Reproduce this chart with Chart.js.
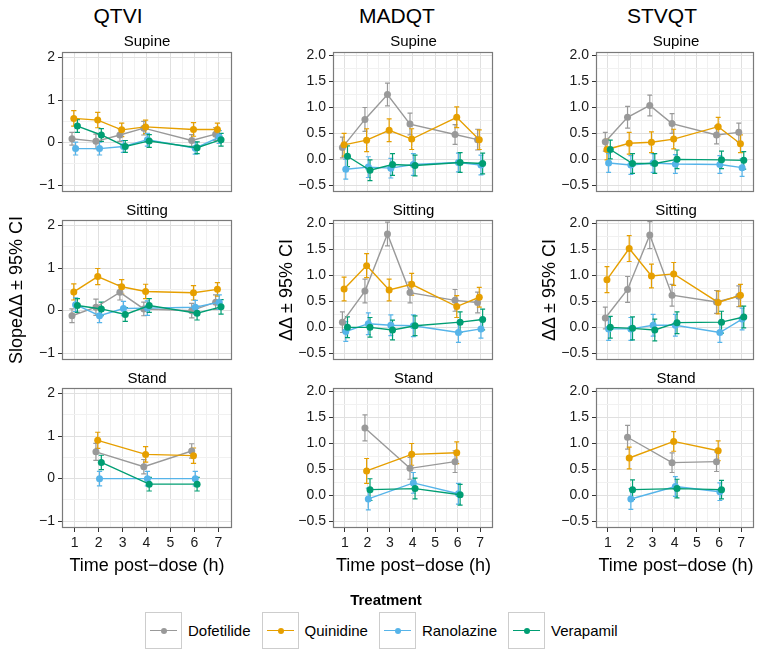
<!DOCTYPE html>
<html>
<head>
<meta charset="utf-8">
<script src="https://cdn.jsdelivr.net/npm/chart.js@4.4.1/dist/chart.umd.min.js"></script>
<style>
  body { margin: 0; width: 757px; height: 650px; position: relative; overflow: hidden; background: #fff;
         font-family: "Liberation Sans", Arial, Helvetica, sans-serif; color: #000; }
  canvas { position: absolute; }
  .txt { position: absolute; white-space: nowrap; transform: translate(-50%, -50%); line-height: 1; }
  .legend { position: absolute; left: 145px; top: 612px; display: flex; align-items: center; font-size: 15px; }
  .key { width: 35px; height: 35px; border: 1px solid #cdcdcd; position: relative; margin-right: 6px; }
  .key .ln { position: absolute; left: 4px; right: 4px; top: 17px; height: 1.4px; }
  .key .dot { position: absolute; left: 15px; top: 15px; width: 6px; height: 6px; border-radius: 50%; }
  .item { display: flex; align-items: center; margin-right: 11px; }
</style>
</head>
<body>
<script>
const treatments = ['Dofetilide', 'Quinidine', 'Ranolazine', 'Verapamil'];
const colors = ['#999999', '#E69F00', '#56B4E9', '#009E73'];
const hours = [1, 2, 3, 4, 6, 7];
const standHours = [2, 4, 6];
const xTicks = [1, 2, 3, 4, 5, 6, 7];
const qtviTicks = [-1, 0, 1, 2];
const dqtTicks = [-0.5, 0, 0.5, 1, 1.5, 2];

// QTVI (rows: Dofetilide, Quinidine, Ranolazine, Verapamil)
const qtviSupine = [
  [0.09, 0.03, 0.18, 0.34, 0.05, 0.20],
  [0.57, 0.53, 0.30, 0.37, 0.31, 0.31],
  [-0.14, -0.14, -0.09, 0.07, -0.13, 0.13],
  [0.39, 0.18, -0.09, 0.04, -0.12, 0.07]
];
const qtviSupineCI = [
  [0.15, 0.17, 0.15, 0.16, 0.14, 0.15],
  [0.18, 0.18, 0.16, 0.16, 0.16, 0.15],
  [0.15, 0.15, 0.14, 0.15, 0.14, 0.15],
  [0.15, 0.15, 0.14, 0.15, 0.14, 0.15]
];
const qtviSitting = [
  [-0.12, 0.08, 0.43, 0.04, 0.00, 0.20],
  [0.44, 0.80, 0.56, 0.45, 0.42, 0.50],
  [0.14, -0.12, 0.05, 0.06, 0.08, 0.20],
  [0.12, 0.04, -0.09, 0.12, -0.06, 0.09]
];
const qtviSittingCI = [
  [0.16, 0.19, 0.18, 0.16, 0.17, 0.17],
  [0.19, 0.19, 0.17, 0.17, 0.17, 0.16],
  [0.16, 0.16, 0.17, 0.17, 0.16, 0.17],
  [0.16, 0.16, 0.16, 0.16, 0.16, 0.17]
];
const qtviStand = [
  [0.63, 0.28, 0.65],
  [0.90, 0.57, 0.54],
  [0.00, 0.00, 0.00],
  [0.38, -0.13, -0.13]
];
const qtviStandCI = [
  [0.20, 0.17, 0.17],
  [0.19, 0.18, 0.18],
  [0.17, 0.17, 0.17],
  [0.17, 0.16, 0.16]
];

// MADQT
const madqtSupine = [
  [0.23, 0.77, 1.25, 0.68, 0.48, 0.38],
  [0.28, 0.37, 0.56, 0.39, 0.81, 0.38],
  [-0.19, -0.15, -0.17, -0.10, -0.06, -0.11],
  [0.06, -0.21, -0.10, -0.12, -0.06, -0.08]
];
const madqtSupineCI = [
  [0.20, 0.23, 0.22, 0.21, 0.19, 0.20],
  [0.22, 0.22, 0.22, 0.20, 0.20, 0.19],
  [0.19, 0.20, 0.19, 0.21, 0.18, 0.19],
  [0.20, 0.20, 0.21, 0.20, 0.19, 0.20]
];
const madqtSitting = [
  [0.10, 0.70, 1.80, 0.67, 0.52, 0.48],
  [0.74, 1.19, 0.72, 0.83, 0.40, 0.58],
  [-0.08, 0.07, 0.04, 0.03, -0.10, -0.03],
  [0.00, 0.00, -0.05, 0.03, 0.10, 0.15]
];
const madqtSittingCI = [
  [0.20, 0.23, 0.23, 0.20, 0.21, 0.20],
  [0.23, 0.23, 0.21, 0.21, 0.21, 0.19],
  [0.19, 0.21, 0.20, 0.21, 0.19, 0.18],
  [0.20, 0.19, 0.19, 0.19, 0.20, 0.20]
];
const madqtStand = [
  [1.30, 0.52, 0.65],
  [0.47, 0.79, 0.82],
  [-0.07, 0.24, 0.03],
  [0.11, 0.13, 0.01]
];
const madqtStandCI = [
  [0.25, 0.21, 0.21],
  [0.24, 0.21, 0.21],
  [0.21, 0.20, 0.20],
  [0.21, 0.20, 0.20]
];

// STVQT
const stvqtSupine = [
  [0.34, 0.81, 1.04, 0.69, 0.47, 0.52],
  [0.19, 0.31, 0.33, 0.39, 0.63, 0.30],
  [-0.07, -0.11, -0.07, -0.09, -0.10, -0.16],
  [0.19, -0.08, -0.08, 0.00, -0.01, -0.02]
];
const stvqtSupineCI = [
  [0.18, 0.21, 0.20, 0.19, 0.17, 0.18],
  [0.20, 0.21, 0.20, 0.19, 0.18, 0.17],
  [0.18, 0.18, 0.18, 0.18, 0.17, 0.17],
  [0.18, 0.19, 0.19, 0.18, 0.17, 0.17]
];
const stvqtSitting = [
  [0.18, 0.73, 1.78, 0.62, 0.49, 0.60],
  [0.92, 1.52, 0.99, 1.03, 0.48, 0.62],
  [-0.03, -0.03, 0.04, 0.04, -0.10, 0.16],
  [0.00, -0.02, -0.05, 0.09, 0.10, 0.20]
];
const stvqtSittingCI = [
  [0.21, 0.25, 0.26, 0.21, 0.22, 0.20],
  [0.25, 0.25, 0.23, 0.22, 0.22, 0.21],
  [0.22, 0.22, 0.21, 0.21, 0.19, 0.21],
  [0.21, 0.22, 0.21, 0.21, 0.21, 0.21]
];
const stvqtStand = [
  [1.12, 0.63, 0.65],
  [0.72, 1.04, 0.86],
  [-0.07, 0.17, 0.07],
  [0.11, 0.13, 0.11]
];
const stvqtStandCI = [
  [0.23, 0.19, 0.19],
  [0.21, 0.19, 0.19],
  [0.20, 0.19, 0.17],
  [0.19, 0.18, 0.18]
];

const FONT = '"Liberation Sans", Arial, Helvetica, sans-serif';
const dodge = [-0.1125, -0.0375, 0.0375, 0.1125];
const capHalf = 0.11;

// column / row geometry of the panel areas
const cols = [
  { left: 0, width: 235, axisW: 62, padR: 3, yTicks: qtviTicks, yMin: -1.16, yMax: 2.13, dec: 0 },
  { left: 270, width: 226, axisW: 63, padR: 2, yTicks: dqtTicks, yMin: -0.63, yMax: 2.07, dec: 1 },
  { left: 533, width: 224, axisW: 63, padR: 1, yTicks: dqtTicks, yMin: -0.63, yMax: 2.07, dec: 1 }
];
const rowTops = [52, 220, 388];
const PANEL_H = 140, PAD = 16;

const midpoints = arr => arr.slice(1).map((v, i) => (v + arr[i]) / 2);
const withMinor = arr => arr.concat(midpoints(arr)).sort((a, b) => a - b);
const fmt = (v, dec) => v.toFixed(dec).replace('-', '\u2212');

const errorBars = {
  id: 'errorBars',
  beforeDatasetsDraw(chart) {
    const { ctx, scales: { x, y } } = chart;
    ctx.save();
    ctx.lineWidth = 1.2;
    chart.data.datasets.forEach(ds => {
      ctx.strokeStyle = ds.borderColor;
      ds.data.forEach((p, j) => {
        const px = x.getPixelForValue(p.x);
        const hi = y.getPixelForValue(p.y + ds.ci[j]);
        const lo = y.getPixelForValue(p.y - ds.ci[j]);
        const l = x.getPixelForValue(p.x - capHalf);
        const r = x.getPixelForValue(p.x + capHalf);
        ctx.beginPath();
        ctx.moveTo(px, hi); ctx.lineTo(px, lo);
        ctx.moveTo(l, hi); ctx.lineTo(r, hi);
        ctx.moveTo(l, lo); ctx.lineTo(r, lo);
        ctx.stroke();
      });
    });
    ctx.restore();
  }
};

const panelBox = {
  id: 'panelBox',
  afterDraw(chart) {
    const { ctx, chartArea: a } = chart;
    ctx.save();
    ctx.strokeStyle = '#7a7a7a';
    ctx.lineWidth = 1.2;
    ctx.strokeRect(Math.round(a.left) + 0.5, Math.round(a.top) + 0.5,
      Math.round(a.right - a.left) - 1, Math.round(a.bottom - a.top) - 1);
    ctx.restore();
  }
};

function panel(col, row, series, ci, xs) {
  const c = cols[col];
  const bottom = row === 2;
  const canvas = document.createElement('canvas');
  canvas.width = c.width;
  canvas.height = PAD + PANEL_H + (bottom ? 30 : PAD);
  canvas.style.left = c.left + 'px';
  canvas.style.top = (rowTops[row] - PAD) + 'px';
  document.body.appendChild(canvas);

  const datasets = treatments.map((name, i) => ({
    label: name,
    data: xs.map((h, j) => ({ x: h + dodge[i], y: series[i][j] })),
    ci: ci[i],
    borderColor: colors[i],
    backgroundColor: colors[i],
    pointBackgroundColor: colors[i],
    borderWidth: 1.4,
    pointRadius: 3.5,
    pointHoverRadius: 3.5,
    pointBorderWidth: 0,
    tension: 0,
    order: 3 - i
  }));

  const xVals = withMinor(xTicks);
  const yVals = withMinor(c.yTicks);
  const isMajorX = v => xTicks.includes(v);
  const isMajorY = v => c.yTicks.includes(v);

  new Chart(canvas, {
    type: 'line',
    data: { datasets },
    plugins: [errorBars, panelBox],
    options: {
      responsive: false,
      animation: false,
      devicePixelRatio: 1,
      layout: { padding: { top: PAD, bottom: bottom ? 0 : PAD, left: 0, right: c.padR } },
      plugins: { legend: { display: false }, tooltip: { enabled: false } },
      scales: {
        x: {
          type: 'linear', min: 0.47, max: 7.55,
          afterBuildTicks: s => { s.ticks = xVals.map(v => ({ value: v })); },
          afterFit: s => { s.height = bottom ? 30 : 0; },
          border: { display: false },
          grid: {
            color: ctx => isMajorX(ctx.tick.value) ? '#e0e0e0' : '#f1f1f1',
            lineWidth: 1,
            drawTicks: bottom,
            tickLength: 4,
            tickWidth: 1,
            tickColor: ctx => isMajorX(ctx.tick.value) ? '#333333' : 'rgba(0,0,0,0)'
          },
          ticks: {
            display: bottom, autoSkip: false, maxRotation: 0, padding: 3,
            color: '#1a1a1a', font: { family: FONT, size: 14 },
            callback: v => isMajorX(v) ? String(v) : ''
          }
        },
        y: {
          type: 'linear', min: c.yMin, max: c.yMax,
          afterBuildTicks: s => { s.ticks = yVals.map(v => ({ value: v })); },
          afterFit: s => { s.width = c.axisW; },
          border: { display: false },
          grid: {
            color: ctx => isMajorY(ctx.tick.value) ? '#e0e0e0' : '#f1f1f1',
            lineWidth: 1,
            drawTicks: true,
            tickLength: 4,
            tickWidth: 1,
            tickColor: ctx => isMajorY(ctx.tick.value) ? '#333333' : 'rgba(0,0,0,0)'
          },
          ticks: {
            autoSkip: false, padding: 3,
            color: '#1a1a1a', font: { family: FONT, size: 14 },
            callback: v => isMajorY(v) ? fmt(v, c.dec) : ''
          }
        }
      }
    }
  });
}

panel(0, 0, qtviSupine, qtviSupineCI, hours);
panel(0, 1, qtviSitting, qtviSittingCI, hours);
panel(0, 2, qtviStand, qtviStandCI, standHours);
panel(1, 0, madqtSupine, madqtSupineCI, hours);
panel(1, 1, madqtSitting, madqtSittingCI, hours);
panel(1, 2, madqtStand, madqtStandCI, standHours);
panel(2, 0, stvqtSupine, stvqtSupineCI, hours);
panel(2, 1, stvqtSitting, stvqtSittingCI, hours);
panel(2, 2, stvqtStand, stvqtStandCI, standHours);

// titles, strip labels, axis titles
function text(str, x, y, size, opts = {}) {
  const d = document.createElement('div');
  d.className = 'txt';
  d.textContent = str;
  d.style.left = x + 'px';
  d.style.top = y + 'px';
  d.style.fontSize = size + 'px';
  if (opts.rotate) d.style.transform = 'translate(-50%, -50%) rotate(-90deg)';
  if (opts.bold) d.style.fontWeight = 'bold';
  document.body.appendChild(d);
}

const measures = ['QTVI', 'MADQT', 'STVQT'];
const measureX = [118, 397, 662];
const positions = ['Supine', 'Sitting', 'Stand'];
const stripY = [40, 209, 377];
const yTitles = ['Slope\u0394\u0394 \u00b1 95% CI', '\u0394\u0394 \u00b1 95% CI', '\u0394\u0394 \u00b1 95% CI'];
const yTitleX = [16, 286, 549];

cols.forEach((c, i) => {
  const cx = c.left + c.axisW + (c.width - c.axisW - c.padR) / 2;
  text(measures[i], measureX[i], 15, 21);
  positions.forEach((p, r) => text(p, cx, stripY[r], 15));
  text('Time post\u2212dose (h)', cx, 565, 18);
  text(yTitles[i], yTitleX[i], 290, 18, { rotate: true });
});

// legend
text('Treatment', 386, 599, 15, { bold: true });
const legend = document.createElement('div');
legend.className = 'legend';
treatments.forEach((name, i) => {
  const item = document.createElement('div');
  item.className = 'item';
  item.innerHTML = '<div class="key"><div class="ln" style="background:' + colors[i] +
    '"></div><div class="dot" style="background:' + colors[i] + '"></div></div><span>' + name + '</span>';
  legend.appendChild(item);
});
document.body.appendChild(legend);
</script>
</body>
</html>
